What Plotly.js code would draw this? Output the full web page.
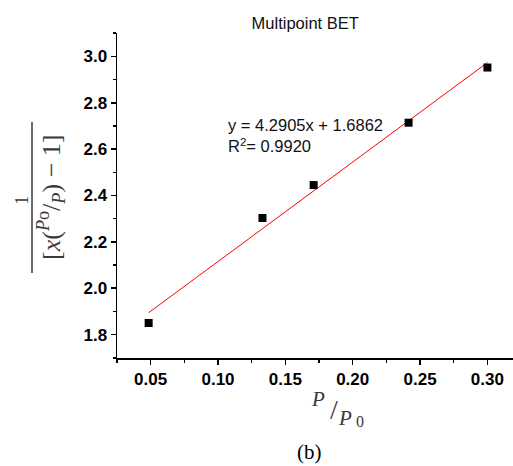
<!DOCTYPE html>
<html>
<head>
<meta charset="utf-8">
<script src="https://cdn.plot.ly/plotly-3.0.1.min.js"></script>
<style>html,body{margin:0;padding:0;background:#fff;}#chart{width:513px;height:466px;}</style>
</head>
<body>
<div id="chart"></div>
<script>
// Data
const pressureRatio = [0.0485, 0.133, 0.171, 0.2415, 0.300];   // P/P0
const betValues = [1.850, 2.303, 2.445, 2.714, 2.952];         // 1/[x(P0/P)-1]
const fitSlope = 4.2905;
const fitIntercept = 1.6862;
const fitR2 = 0.9920;
const xTickVals = [0.05, 0.10, 0.15, 0.20, 0.25, 0.30];
const xTickText = ['0.05', '0.10', '0.15', '0.20', '0.25', '0.30'];
const yTickVals = [1.8, 2.0, 2.2, 2.4, 2.6, 2.8, 3.0];
const yTickText = ['1.8', '2.0', '2.2', '2.4', '2.6', '2.8', '3.0'];

const fitX = [Math.min(...pressureRatio), Math.max(...pressureRatio)];
const fitY = fitX.map(v => fitSlope * v + fitIntercept);

// layout helpers (pixel -> paper)
const L = 117, R = 0, T = 33, B = 108, W = 513, H = 466;
const pw = W - L - R, ph = H - T - B;
const px = x => (x - L) / pw;
const py = y => (H - B - y) / ph;

const sans = 'Liberation Sans, Arial, sans-serif';
const serif = 'Liberation Serif, Times New Roman, serif';
const mathColor = '#3a3a3a';

const traces = [
  {
    x: fitX, y: fitY, type: 'scatter', mode: 'lines',
    line: {color: '#ff0000', width: 1}, hoverinfo: 'skip', showlegend: false
  },
  {
    x: pressureRatio, y: betValues, type: 'scatter', mode: 'markers',
    marker: {symbol: 'square', size: 8, color: '#000'}, showlegend: false
  }
];

const layout = {
  width: W, height: H,
  margin: {l: L, r: R, t: T, b: B},
  paper_bgcolor: '#fff', plot_bgcolor: '#fff',
  showlegend: false,
  title: {
    text: 'Multipoint BET',
    font: {family: sans, size: 16.5, color: '#111'},
    xref: 'container', x: 0.595, xanchor: 'center',
    yref: 'container', y: 1 - 23 / H, yanchor: 'middle'
  },
  xaxis: {
    range: [0.025, 0.319],
    showgrid: false, zeroline: false,
    showline: true, linecolor: '#000', linewidth: 1.5,
    ticks: 'outside', ticklen: 5, tickwidth: 1.5, tickcolor: '#000',
    tickvals: xTickVals, ticktext: xTickText,
    tickfont: {family: sans, size: 17, weight: 'bold', color: '#000'},
    minor: {ticks: 'outside', ticklen: 3, tickwidth: 1.5, tickcolor: '#000', dtick: 0.025, tick0: 0.025},
    mirror: false
  },
  yaxis: {
    range: [1.699, 3.101],
    showgrid: false, zeroline: false,
    showline: true, linecolor: '#000', linewidth: 1.5,
    ticks: 'outside', ticklen: 5, tickwidth: 1.5, tickcolor: '#000',
    tickvals: yTickVals, ticktext: yTickText,
    tickfont: {family: sans, size: 17, weight: 'bold', color: '#000'},
    minor: {ticks: 'outside', ticklen: 3, tickwidth: 1.5, tickcolor: '#000', dtick: 0.1, tick0: 1.7},
    mirror: false
  },
  shapes: [
    // fraction bar of y-axis title
    {type: 'line', xref: 'paper', yref: 'paper',
     x0: px(32), x1: px(32), y0: py(273), y1: py(122),
     line: {color: mathColor, width: 1.5}}
  ],
  annotations: [
    {
      xref: 'paper', yref: 'paper', x: px(226), y: py(135.5),
      xanchor: 'left', yanchor: 'middle', align: 'left', showarrow: false,
      text: 'y = ' + fitSlope.toFixed(4) + 'x + ' + fitIntercept.toFixed(4) +
            '<br>R<sup>2</sup>= ' + fitR2.toFixed(4),
      font: {family: sans, size: 16.5, color: '#111'}
    },
    // y-axis title: numerator
    {
      xref: 'paper', yref: 'paper', x: px(21), y: py(200),
      xanchor: 'center', yanchor: 'middle', showarrow: false, textangle: -90,
      text: '1', font: {family: serif, size: 19, color: mathColor}
    },
    // y-axis title: denominator
    {
      xref: 'paper', yref: 'paper', x: px(51), y: py(198),
      xanchor: 'center', yanchor: 'middle', showarrow: false, textangle: -90,
      text: '[<i>x</i>(<sup><i>P</i>o</sup>/<sub><i>P</i></sub>) − 1]',
      font: {family: serif, size: 26, color: mathColor}
    },
    // x-axis title pieces: P / P0
    {
      xref: 'paper', yref: 'paper', x: px(317.5), y: py(399),
      xanchor: 'center', yanchor: 'middle', showarrow: false,
      text: '<i>P</i>', font: {family: serif, size: 21, color: mathColor}
    },
    {
      xref: 'paper', yref: 'paper', x: px(334), y: py(409),
      xanchor: 'center', yanchor: 'middle', showarrow: false,
      text: '/', font: {family: serif, size: 28, color: mathColor}
    },
    {
      xref: 'paper', yref: 'paper', x: px(345), y: py(418),
      xanchor: 'center', yanchor: 'middle', showarrow: false,
      text: '<i>P</i>', font: {family: serif, size: 21, color: mathColor}
    },
    {
      xref: 'paper', yref: 'paper', x: px(359.5), y: py(421.5),
      xanchor: 'center', yanchor: 'middle', showarrow: false,
      text: '0', font: {family: serif, size: 16, color: mathColor}
    },
    // panel label
    {
      xref: 'paper', yref: 'paper', x: px(309), y: py(452),
      xanchor: 'center', yanchor: 'middle', showarrow: false,
      text: '(b)', font: {family: serif, size: 21, color: '#000'}
    }
  ]
};

Plotly.newPlot('chart', traces, layout, {displayModeBar: false, staticPlot: true});
</script>
</body>
</html>
